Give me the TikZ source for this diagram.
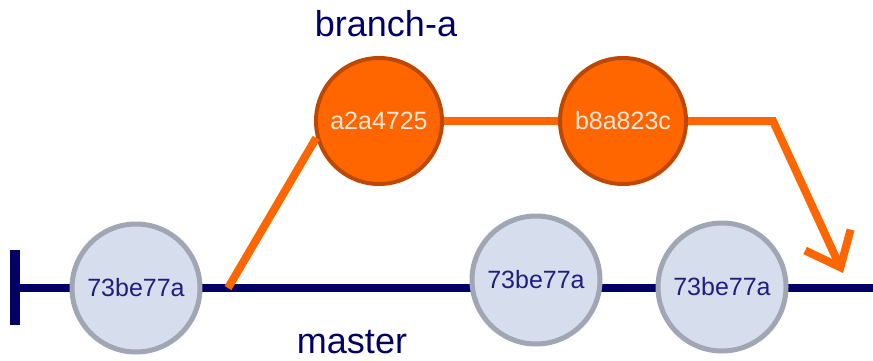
\documentclass[tikz,border=0pt]{standalone}
\usepackage{fontspec}
\setmainfont{Liberation Sans}
\usetikzlibrary{arrows.meta}
\definecolor{navy}{RGB}{0,0,102}
\definecolor{commitfill}{RGB}{214,222,238}
\definecolor{commitline}{RGB}{160,166,180}
\definecolor{orangefill}{RGB}{255,102,0}
\definecolor{orangeline}{RGB}{190,72,0}
\definecolor{hashtext}{RGB}{30,30,130}
\definecolor{paletext}{RGB}{255,232,216}
\tikzset{
  mastercommit/.style={circle, draw=commitline, line width=5pt, fill=commitfill,
    minimum size=128pt, inner sep=0pt, text=hashtext, font=\fontsize{25}{29}\selectfont},
  branchcommit/.style={circle, draw=orangeline, line width=4pt, fill=orangefill,
    minimum size=126pt, inner sep=0pt, text=paletext, font=\fontsize{25}{29}\selectfont},
  masterline/.style={draw=navy, line width=8pt},
  branchline/.style={draw=orangefill, line width=8pt},
  label/.style={text=navy, font=\fontsize{36}{42}\selectfont}
}
\begin{document}
\begin{tikzpicture}[x={(1pt,0)}, y={(0,-1pt)}]
\useasboundingbox (0,0) rectangle (873,361);
% coordinates
\coordinate (start) at (15,288);
\coordinate (bartop) at (15,250);
\coordinate (barbot) at (15,325);
\coordinate (end) at (873,288);
\coordinate (fork) at (228,288);
\coordinate (bend) at (773,121);
\coordinate (tip) at (843,273);
% master line
\draw[masterline] (start) -- (end);
\draw[draw=navy, line width=10pt] (bartop) -- (barbot);
% nodes
\node[mastercommit] (c1) at (136,288) {73be77a};
\node[mastercommit] (c2) at (536,280) {73be77a};
\node[mastercommit] (c3) at (722,287) {73be77a};
\node[branchcommit] (a) at (379,121) {a2a4725};
\node[branchcommit] (b) at (623,121) {b8a823c};
% branch line
\draw[branchline, line cap=butt] (fork) -- (a.195);
\draw[branchline] (a.east) -- (b.west);
\draw[branchline, line join=miter, -{Straight Barb[length=30pt, width=50pt, line width=8pt]}] (b.east) -- (bend) -- (tip);
% labels
\node[label] (bl) at (386,24) {branch-a};
\node[label] (ml) at (352,342) {master};
\end{tikzpicture}
\end{document}
